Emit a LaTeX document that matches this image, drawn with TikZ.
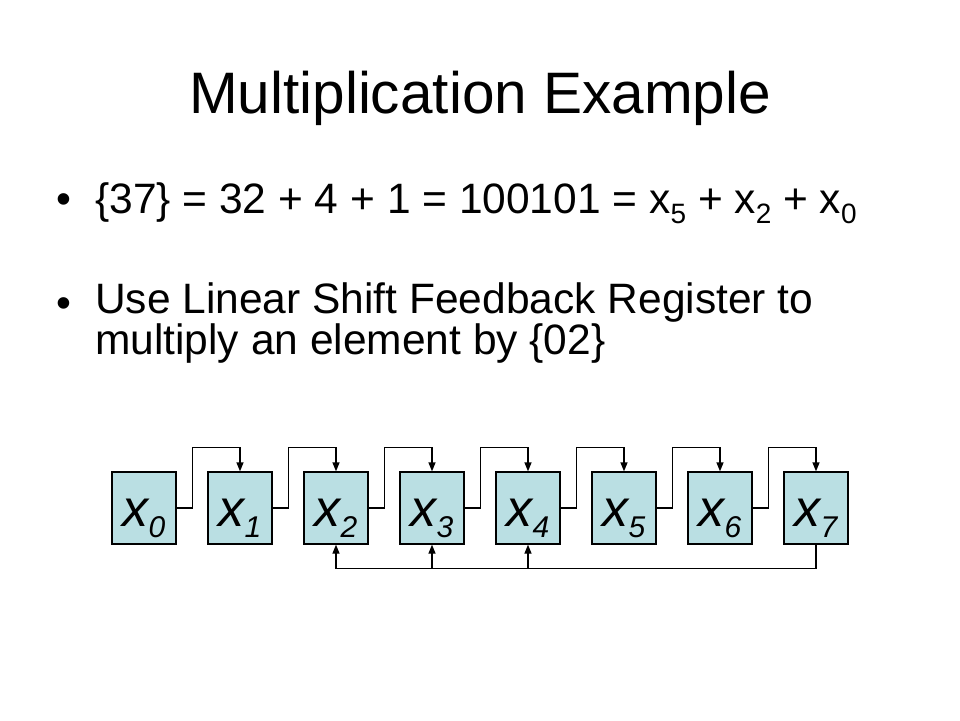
\documentclass[tikz,border=0pt]{standalone}
\usepackage{fontspec}
\setmainfont{Liberation Sans}
\usetikzlibrary{arrows.meta,calc}

\definecolor{regfill}{RGB}{186,223,227}
\newcommand{\lowsub}[3]{\raisebox{-#1pt}{\fontsize{#2}{#2}\selectfont #3}}

\tikzset{
  regbox/.style={draw=black, line width=1.3pt, fill=regfill, rectangle, inner sep=0pt,
    minimum width=64pt, minimum height=72pt, text height=37pt, text depth=0pt,
    font=\fontsize{52}{52}\selectfont\itshape},
  shiftarr/.style={line width=1.3pt, -{Triangle[length=9pt,width=7pt]}},
  bodytext/.style={anchor=base west, inner sep=0pt, font=\fontsize{42.5}{37.3}\selectfont}
}

\begin{document}
\begin{tikzpicture}[x=1pt,y=-1pt]
\useasboundingbox (0,0) rectangle (960,720);
%title and bullets
\node[anchor=base, inner sep=0pt, font=\fontsize{58.5}{58.5}\selectfont] (title) at (480,113) {Multiplication Example};
\node[bodytext, anchor=base] (dot1) at (64,213) {\textbullet};
\node[bodytext] (line1) at (95,213) {\{37\} = 32 + 4 + 1 = 100101 = x\lowsub{10}{28}{5} + x\lowsub{10}{28}{2} + x\lowsub{10}{28}{0}};
\node[bodytext, anchor=base] (dot2) at (64,317) {\textbullet};
% base of a two-line node is its last line
\node[bodytext, align=left] (line2) at (95,354) {Use Linear Shift Feedback Register to\\multiply an element by \{02\}};
%register cells
\foreach \i in {0,...,7}
  \node[regbox] (r\i) at (144+96*\i,508) {x\lowsub{10.7}{30}{\i}};
%shift connections
\foreach \i [evaluate=\i as \j using int(\i+1)] in {0,...,6}
  \draw[shiftarr] (r\i.east) -- ++(16,0) |- ([yshift=24pt]r\j.north) -- (r\j.north);
%feedback
\draw[shiftarr] (r7.south) -- ([yshift=-24pt]r7.south) -| (r2.south);
\draw[shiftarr] ([yshift=-24pt]r3.south) -- (r3.south);
\draw[shiftarr] ([yshift=-24pt]r4.south) -- (r4.south);
\end{tikzpicture}
\end{document}
